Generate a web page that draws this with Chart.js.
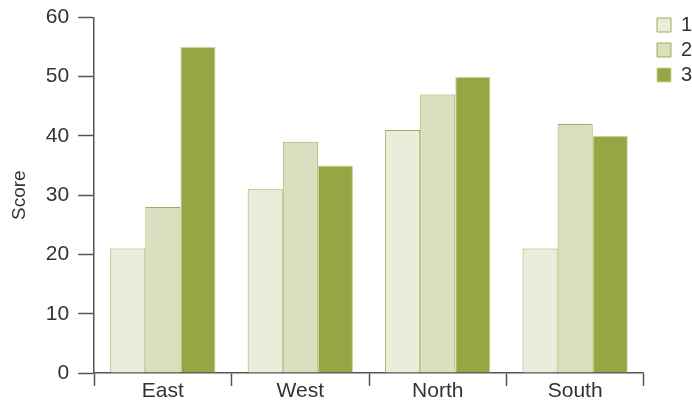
<!DOCTYPE html>
<html>
<head>
<meta charset="utf-8">
<script src="https://cdn.jsdelivr.net/npm/chart.js@4"></script>
<style>
  html, body { margin: 0; padding: 0; background: #fff; }
  #wrap { width: 692px; height: 402px; }
</style>
</head>
<body>
<div id="wrap"><canvas id="scoreChart" width="692" height="402"></canvas></div>
<script>
// Données
const regions = ['East', 'West', 'North', 'South'];
const series1 = [21, 31, 41, 21];
const series2 = [28, 39, 47, 42];
const series3 = [55, 35, 50, 40];
const yTicks = [0, 10, 20, 30, 40, 50, 60];

const axisColor = '#555555';
const textColor = '#333333';
const fontFamily = '"Liberation Sans", Arial, sans-serif';

// Décaler la légende pour la placer comme dans le modèle
const legendShift = {
    id: 'legendShift',
    beforeDraw: function (chart) {
        const lg = chart.legend;
        const w = lg.right - lg.left;
        lg.left = 652;
        lg.right = lg.left + w;
        const h = lg.bottom - lg.top;
        lg.top = 10;
        lg.bottom = lg.top + h;
    }
};

new Chart(document.getElementById('scoreChart'), {
    type: 'bar',
    data: {
        labels: regions,
        datasets: [
            { label: '1', data: series1, backgroundColor: '#e9eddc', borderColor: '#9cb04f', borderWidth: 1 },
            { label: '2', data: series2, backgroundColor: '#d9e0bf', borderColor: '#9cb04f', borderWidth: 1 },
            { label: '3', data: series3, backgroundColor: '#95a645', borderColor: '#c9d49a', borderWidth: 1 }
        ]
    },
    plugins: [legendShift],
    options: {
        responsive: false,
        animation: false,
        devicePixelRatio: 1,
        layout: { padding: { top: 0, right: -2, bottom: 0, left: 8 } },
        datasets: {
            bar: { categoryPercentage: 0.766, barPercentage: 1.0 }
        },
        plugins: {
            legend: {
                position: 'right',
                align: 'start',
                labels: {
                    boxWidth: 14,
                    boxHeight: 14,
                    padding: 5,
                    color: textColor,
                    font: { family: fontFamily, size: 20 }
                }
            },
            tooltip: { enabled: false }
        },
        scales: {
            x: {
                afterFit: function (axis) {
                    axis.height = 29;
                },
                grid: {
                    display: true,
                    offset: true,
                    drawOnChartArea: false,
                    drawTicks: true,
                    tickLength: 13,
                    tickColor: axisColor,
                    tickWidth: 1.5
                },
                border: { display: true, color: axisColor, width: 1.5 },
                ticks: {
                    padding: -7,
                    color: textColor,
                    font: { family: fontFamily, size: 21 }
                }
            },
            y: {
                min: 0,
                max: 60,
                afterBuildTicks: function (axis) {
                    axis.ticks = yTicks.map(function (v) { return { value: v }; });
                },
                grid: {
                    display: true,
                    drawOnChartArea: false,
                    drawTicks: true,
                    tickLength: 16,
                    tickColor: axisColor,
                    tickWidth: 1.5
                },
                border: { display: true, color: axisColor, width: 1.5 },
                ticks: {
                    padding: 9,
                    color: textColor,
                    font: { family: fontFamily, size: 21, lineHeight: 0.8 }
                },
                title: {
                    display: true,
                    text: 'Score',
                    color: textColor,
                    padding: { top: 0, bottom: 6 },
                    font: { family: fontFamily, size: 19 }
                }
            }
        }
    }
});
</script>
</body>
</html>
